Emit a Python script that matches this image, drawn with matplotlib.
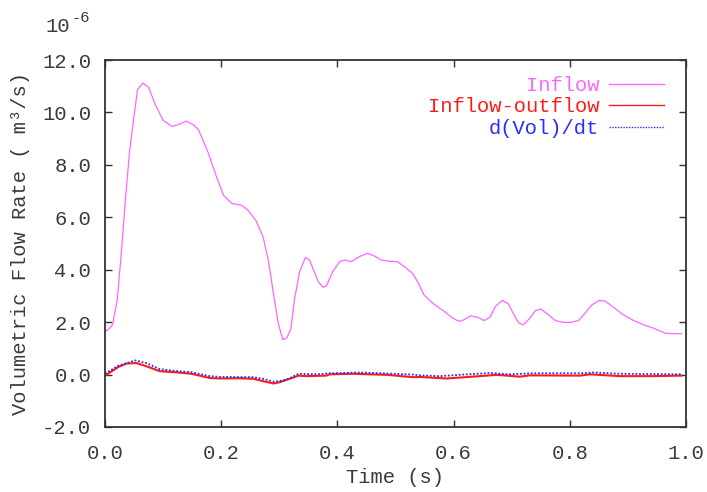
import matplotlib
matplotlib.use("Agg")
import matplotlib.pyplot as plt

# values in units of 1e-6 m^3/s
inflow_t = [0.0, 0.005, 0.013, 0.021, 0.029, 0.035, 0.042, 0.049, 0.056, 0.065,
            0.075, 0.086, 0.100, 0.115, 0.126, 0.140, 0.152, 0.161, 0.178, 0.192,
            0.204, 0.218, 0.235, 0.246, 0.260, 0.272, 0.281, 0.289, 0.298, 0.306,
            0.313, 0.320, 0.326, 0.335, 0.345, 0.352, 0.367, 0.375, 0.381, 0.392,
            0.404, 0.412, 0.424, 0.438, 0.452, 0.464, 0.475, 0.487, 0.504, 0.515,
            0.529, 0.538, 0.549, 0.564, 0.584, 0.598, 0.609, 0.618, 0.629, 0.641,
            0.653, 0.663, 0.672, 0.684, 0.694, 0.704, 0.712, 0.720, 0.730, 0.741,
            0.750, 0.761, 0.775, 0.790, 0.801, 0.815, 0.824, 0.838, 0.851, 0.861,
            0.875, 0.892, 0.910, 0.927, 0.944, 0.964, 0.978, 0.992]
inflow_v = [1.65, 1.71, 1.90, 2.85, 4.87, 6.65, 8.44, 9.70, 10.87, 11.12,
            10.96, 10.33, 9.70, 9.47, 9.53, 9.67, 9.53, 9.34, 8.44, 7.54,
            6.84, 6.53, 6.46, 6.27, 5.87, 5.26, 4.37, 3.23, 1.97, 1.33,
            1.40, 1.75, 2.85, 3.93, 4.47, 4.37, 3.55, 3.33, 3.38, 3.93,
            4.31, 4.37, 4.31, 4.50, 4.63, 4.52, 4.37, 4.33, 4.30, 4.12,
            3.87, 3.55, 3.04, 2.72, 2.41, 2.16, 2.03, 2.09, 2.24, 2.19,
            2.06, 2.19, 2.60, 2.83, 2.70, 2.28, 1.97, 1.90, 2.12, 2.44,
            2.50, 2.32, 2.06, 1.99, 1.99, 2.06, 2.28, 2.66, 2.83, 2.80,
            2.57, 2.28, 2.06, 1.90, 1.77, 1.58, 1.56, 1.56]

net_t = [0.0, 0.009, 0.023, 0.037, 0.054, 0.071, 0.094, 0.120, 0.149, 0.180,
         0.198, 0.230, 0.255, 0.272, 0.290, 0.301, 0.318, 0.333, 0.347, 0.381,
         0.387, 0.427, 0.485, 0.531, 0.542, 0.588, 0.657, 0.674, 0.714, 0.731,
         0.818, 0.835, 0.886, 0.943, 0.992]
net_v = [-0.04, 0.09, 0.29, 0.42, 0.44, 0.32, 0.13, 0.09, 0.03, -0.13,
         -0.15, -0.14, -0.16, -0.25, -0.34, -0.29, -0.16, -0.04, -0.06, -0.04,
         0.01, 0.03, -0.01, -0.10, -0.09, -0.15, -0.04, -0.01, -0.08, -0.03,
         -0.04, 0.01, -0.06, -0.06, -0.04]

dvol_t = [0.0, 0.023, 0.052, 0.071, 0.094, 0.120, 0.149, 0.180, 0.198, 0.255,
          0.272, 0.290, 0.306, 0.318, 0.333, 0.364, 0.387, 0.442, 0.485, 0.531,
          0.542, 0.576, 0.610, 0.662, 0.696, 0.737, 0.818, 0.841, 0.886, 0.992]
dvol_v = [0.04, 0.34, 0.54, 0.44, 0.21, 0.14, 0.09, -0.06, -0.09, -0.10,
          -0.16, -0.27, -0.23, -0.14, 0.03, 0.01, 0.05, 0.08, 0.04, 0.0,
          -0.03, -0.06, -0.01, 0.06, 0.01, 0.05, 0.05, 0.08, 0.03, 0.01]

xticks = [0.0, 0.2, 0.4, 0.6, 0.8, 1.0]
yticks = [-2.0, 0.0, 2.0, 4.0, 6.0, 8.0, 10.0, 12.0]

plt.rcParams['font.family'] = ['Liberation Mono', 'DejaVu Sans Mono']
fs = 14.8
txt = '#3a3a3a'

fig = plt.figure(figsize=(7.07, 4.92), dpi=100)
ax = fig.add_axes([105 / 707, 65 / 492, 581 / 707, 367 / 492])

ax.plot(inflow_t, inflow_v, color='#ff66ff', lw=0.9, label='Inflow')
ax.plot(net_t, net_v, color='#ff1a1a', lw=1.5, label='Inflow-outflow')
ax.plot(dvol_t, dvol_v, color='#2b2bff', lw=1.3, ls=(0, (1, 1)), label='d(Vol)/dt')

ax.set_xlim(0, 1)
ax.set_ylim(-2, 12)
ax.set_xticks(xticks)
ax.set_xticklabels(['%.1f' % v for v in xticks])
ax.set_yticks(yticks)
ax.set_yticklabels(['%.1f' % v for v in yticks])
ax.tick_params(direction='in', top=True, right=True, length=5, width=1,
               labelsize=fs, labelcolor=txt, colors='#333333')
ax.tick_params(axis='x', pad=12)
ax.tick_params(axis='y', pad=10)
for s in ax.spines.values():
    s.set_color('#333333')
    s.set_linewidth(1.3)

ax.set_xlabel('Time (s)', fontsize=fs, color=txt, labelpad=4)
ax.set_ylabel('Volumetric Flow Rate ( m³/s)', fontsize=fs, color=txt, labelpad=9)

fig.text(45 / 707, 1 - 26 / 492, '10', fontsize=fs, color=txt, va='center')
fig.text(72 / 707, 1 - 18 / 492, '-6', fontsize=fs * 0.75, color=txt, va='center')

leg = ax.legend(loc='upper right', bbox_to_anchor=(0.983, 0.99), frameon=False,
                markerfirst=False, labelcolor='linecolor', fontsize=fs,
                handlelength=2.65, handletextpad=0.5, labelspacing=0.12,
                borderaxespad=0.2)
for h in leg.get_lines():
    h.set_linewidth(1.0)

fig.savefig('out.png', dpi=100)
